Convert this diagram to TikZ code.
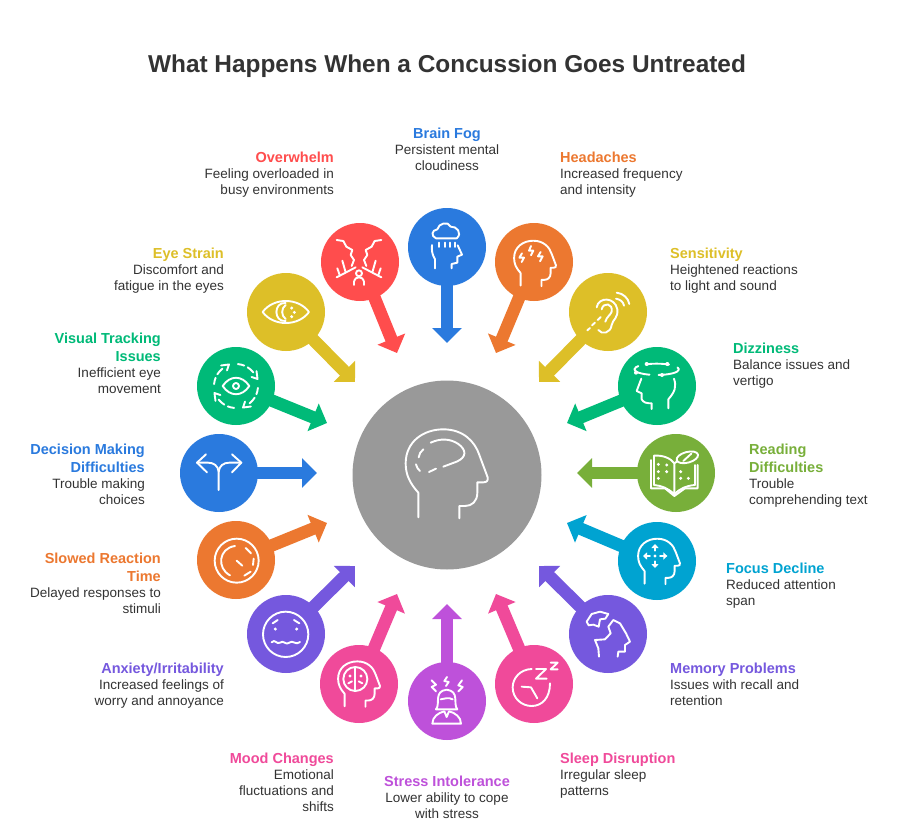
\documentclass[tikz,border=0pt]{standalone}
\usepackage{fontspec}
\setmainfont{Liberation Sans}
\usetikzlibrary{arrows.meta}
\definecolor{cblue}{HTML}{2A7ADE}
\definecolor{cred}{HTML}{FF4D4D}
\definecolor{corange}{HTML}{EC7830}
\definecolor{cyellow}{HTML}{DDBF28}
\definecolor{cgreen}{HTML}{00BA78}
\definecolor{clime}{HTML}{78AF3A}
\definecolor{ccyan}{HTML}{00A3D1}
\definecolor{cpurple}{HTML}{7558DE}
\definecolor{cpink}{HTML}{F04A9A}
\definecolor{cviolet}{HTML}{BE51DA}
\definecolor{chub}{HTML}{999999}
\definecolor{ctext}{HTML}{333333}
\newcommand{\hd}[2]{{\fontsize{14.5}{18}\selectfont\bfseries\color{#1}#2}}
\newcommand{\headpath}[2]{\begin{scope}[shift={(#1)},scale=#2]
\draw[icon] (-85,131) -- (-85,57) .. controls (-110,29) and (-123,4) .. (-123,-31) .. controls (-123,-96) and (-70,-133) .. (-10,-133) .. controls (50,-133) and (85,-96) .. (98,-56) -- (123,11) .. controls (125,21) and (120,26) .. (110,26) -- (92,26) -- (92,57) .. controls (92,84) and (75,97) .. (55,97) -- (38,97) -- (38,134);
\end{scope}}
\tikzset{
  x=1pt,y=-1pt,
  disc/.style={circle,minimum size=78pt,inner sep=0pt,fill=#1},
  hubdisc/.style={circle,minimum size=189pt,inner sep=0pt,fill=chub},
  spoke/.style={line width=12.5pt,draw=#1,-{Triangle[width=29pt,length=15pt]}},
  icon/.style={draw=white,line width=1.9pt,line cap=round,line join=round},
  lblr/.style={anchor=north east,align=right,inner sep=0pt,text=ctext,font=\fontsize{13.5}{16}\selectfont},
  lbll/.style={anchor=north west,align=left,inner sep=0pt,text=ctext,font=\fontsize{13.5}{16}\selectfont},
  lblc/.style={anchor=north,align=center,inner sep=0pt,text=ctext,font=\fontsize{13.5}{16}\selectfont},
  titlenode/.style={inner sep=0pt,text=ctext,font=\fontsize{24.4}{30}\selectfont\bfseries}
}
\begin{document}
\begin{tikzpicture}
\useasboundingbox (0,0) rectangle (898,838);
\fill[white] (0,0) rectangle (898,838);
\node[titlenode] (title) at (447,66) {What Happens When a Concussion Goes Untreated};

% hub and discs
\node[hubdisc] (hub) at (447,475) {};
\node[disc=cblue] (fog) at (447,247) {};
\node[disc=cred] (over) at (360,262) {};
\node[disc=cyellow] (eye) at (286,312) {};
\node[disc=cgreen] (track) at (236,386) {};
\node[disc=cblue] (deci) at (219,473) {};
\node[disc=corange] (slow) at (236,560) {};
\node[disc=cpurple] (anx) at (286,634) {};
\node[disc=cpink] (mood) at (359,684) {};
\node[disc=cviolet] (stress) at (447,701) {};
\node[disc=cpink] (sleep) at (534,684) {};
\node[disc=cpurple] (mem) at (608,634) {};
\node[disc=ccyan] (focus) at (657,561) {};
\node[disc=clime] (read) at (676,473) {};
\node[disc=cgreen] (dizzy) at (657,386) {};
\node[disc=cyellow] (sens) at (608,312) {};
\node[disc=corange] (ache) at (534,262) {};

% connector ends
\coordinate (tfog) at (447,343);
\coordinate (tover) at (397,353);
\coordinate (teye) at (355,382);
\coordinate (ttrack) at (327,423);
\coordinate (tdeci) at (317,473);
\coordinate (tslow) at (327,523);
\coordinate (tanx) at (355,566);
\coordinate (tmood) at (397,594);
\coordinate (tstress) at (447,604);
\coordinate (tsleep) at (496,594);
\coordinate (tmem) at (539,566);
\coordinate (tfocus) at (567,523);
\coordinate (tread) at (577,473);
\coordinate (tdizzy) at (567,423);
\coordinate (tsens) at (539,382);
\coordinate (tache) at (496,353);

\draw[spoke=cblue] (fog.center) -- (tfog);
\draw[spoke=cred] (over.center) -- (tover);
\draw[spoke=cyellow] (eye.center) -- (teye);
\draw[spoke=cgreen] (track.center) -- (ttrack);
\draw[spoke=cblue] (deci.center) -- (tdeci);
\draw[spoke=corange] (slow.center) -- (tslow);
\draw[spoke=cpurple] (anx.center) -- (tanx);
\draw[spoke=cpink] (mood.center) -- (tmood);
\draw[spoke=cviolet] (stress.center) -- (tstress);
\draw[spoke=cpink] (sleep.center) -- (tsleep);
\draw[spoke=cpurple] (mem.center) -- (tmem);
\draw[spoke=ccyan] (focus.center) -- (tfocus);
\draw[spoke=clime] (read.center) -- (tread);
\draw[spoke=cgreen] (dizzy.center) -- (tdizzy);
\draw[spoke=cyellow] (sens.center) -- (tsens);
\draw[spoke=corange] (ache.center) -- (tache);

% labels
\node[lblc] (lfog) at (447,128) {\hd{cblue}{Brain Fog}\\Persistent mental\\cloudiness};
\node[lblr] (lover) at (334,151.5) {\hd{cred}{Overwhelm}\\Feeling overloaded in\\busy environments};
\node[lbll] (lache) at (560,151.5) {\hd{corange}{Headaches}\\Increased frequency\\and intensity};
\node[lblr] (leye) at (224,247.5) {\hd{cyellow}{Eye Strain}\\Discomfort and\\fatigue in the eyes};
\node[lbll] (lsens) at (670,247.5) {\hd{cyellow}{Sensitivity}\\Heightened reactions\\to light and sound};
\node[lblr] (ltrack) at (161,332.5) {\hd{cgreen}{Visual Tracking}\\[2pt]\hd{cgreen}{Issues}\\Inefficient eye\\movement};
\node[lbll] (ldizzy) at (733,342.5) {\hd{cgreen}{Dizziness}\\Balance issues and\\vertigo};
\node[lblr] (ldeci) at (145,443.5) {\hd{cblue}{Decision Making}\\[2pt]\hd{cblue}{Difficulties}\\Trouble making\\choices};
\node[lbll] (lread) at (749,443.5) {\hd{clime}{Reading}\\[2pt]\hd{clime}{Difficulties}\\Trouble\\comprehending text};
\node[lblr] (lslow) at (161,552.5) {\hd{corange}{Slowed Reaction}\\[2pt]\hd{corange}{Time}\\Delayed responses to\\stimuli};
\node[lbll] (lfocus) at (726,562.5) {\hd{ccyan}{Focus Decline}\\Reduced attention\\span};
\node[lblr] (lanx) at (224,662.5) {\hd{cpurple}{Anxiety/Irritability}\\Increased feelings of\\worry and annoyance};
\node[lbll] (lmem) at (670,662.5) {\hd{cpurple}{Memory Problems}\\Issues with recall and\\retention};
\node[lblr] (lmood) at (334,752.5) {\hd{cpink}{Mood Changes}\\Emotional\\fluctuations and\\shifts};
\node[lbll] (lsleep) at (560,752.5) {\hd{cpink}{Sleep Disruption}\\Irregular sleep\\patterns};
\node[lblc] (lstress) at (447,775.5) {\hd{cviolet}{Stress Intolerance}\\Lower ability to cope\\with stress};

% hub icon
\begin{scope}[shift={(350,370)},scale=1/3]
\headpath{290,311}{1}
\draw[icon] (242,218) .. controls (270,205) and (300,205) .. (325,222) .. controls (350,240) and (350,262) .. (320,275) -- (280,290);
\draw[icon] (258,296) -- (237,306);
\draw[icon] (198,283) .. controls (200,292) and (204,298) .. (210,303);
\draw[icon] (220,238) .. controls (212,245) and (207,252) .. (206,262);
\end{scope}

% upper-left icons
\begin{scope}[shift={(180,190)},scale=1/3]
% overwhelm
\foreach \m in {1,-1}{
\begin{scope}[shift={(537,0)},xscale=\m]
\draw[icon] (-67,150) -- (-47,153) -- (-38,170) -- (-20,180) -- (-25,195) -- (-15,210) -- (-22,228);
\draw[icon] (-67,262) -- (-10,232);
\draw[icon] (-65,235) -- (-58,255);
\draw[icon] (-50,212) -- (-40,247);
\end{scope}}
\draw[icon] (537,250) circle[radius=9];
\draw[icon] (522,285) -- (522,275) .. controls (525,265) and (530,262) .. (537,262) .. controls (544,262) and (549,265) .. (552,275) -- (552,285);
% eye strain
\draw[icon] (248,366) .. controls (280,322) and (355,322) .. (387,366) .. controls (355,410) and (280,410) .. (248,366) -- cycle;
\draw[icon] (317,339) .. controls (280,335) and (280,397) .. (317,393);
\draw[icon] (317,345) .. controls (303,355) and (303,377) .. (317,387);
\fill[white] (335,354) circle[radius=5] (343,367) circle[radius=5] (335,380) circle[radius=5];
% visual tracking
\draw[icon] (128,588) .. controls (150,555) and (186,555) .. (208,588) .. controls (186,621) and (150,621) .. (128,588) -- cycle;
\draw[icon] (168,588) circle[radius=9];
\foreach \r in {0,90,180,270}{
\begin{scope}[shift={(168,588)},rotate=\r]
\draw[icon] (5:66) arc[start angle=5,end angle=22,radius=66];
\draw[icon] (32:66) arc[start angle=32,end angle=52,radius=66];
\draw[icon] (60:54) -- (72:68) -- (54:76);
\end{scope}}
\end{scope}

% upper-right icons
\begin{scope}[shift={(450,190)},scale=1/3]
% headaches
\headpath{255,220}{0.51}
\draw[icon] (243,168) -- (237,182) -- (250,182) -- (243,196);
\draw[icon] (216,190) -- (208,203) -- (222,203) -- (215,216);
\draw[icon] (272,186) -- (264,199) -- (278,199) -- (270,214);
% ear
\draw[icon] (440,352) .. controls (445,320) and (495,320) .. (502,358) .. controls (505,385) and (488,388) .. (485,405) .. controls (482,430) and (455,435) .. (445,420);
\draw[icon] (455,358) .. controls (460,335) and (490,340) .. (485,365) .. controls (482,375) and (470,380) .. (466,395);
\draw[icon] (498,326) .. controls (510,328) and (520,335) .. (522,347);
\draw[icon] (500,308) .. controls (520,310) and (535,325) .. (538,342);
\draw[icon] (412,421) -- (420,414);
\draw[icon] (426,406) -- (435,398);
\draw[icon] (443,390) -- (452,381);
% dizziness
\draw[icon,dash pattern=on 22pt off 9pt] (620,538) ellipse[x radius=67,y radius=17];
\fill[white] (590,522) circle[radius=6] (652,522) circle[radius=6] (558,548) circle[radius=6] (636,555) circle[radius=6];
\draw[icon] (655,655) -- (655,628) .. controls (675,605) and (680,590) .. (672,566);
\draw[icon] (574,566) -- (560,603) -- (575,610) -- (575,628) .. controls (580,638) and (590,640) .. (605,640) -- (605,657);
\end{scope}

% lower-left icons
\begin{scope}[shift={(180,470)},scale=1/3]
% slowed reaction
\draw[icon] (170,272) circle[radius=66];
\draw[icon] (150,316) .. controls (110,295) and (115,235) .. (165,228);
\draw[icon] (197,234) -- (213,250);
\draw[icon] (221,266) -- (219,285);
\draw[icon] (212,305) -- (193,317);
\draw[icon] (170,272) -- (187,287);
% anxiety
\draw[icon] (317,493) circle[radius=68];
\fill[white] (286,477) circle[radius=5] (350,477) circle[radius=5];
\draw[icon] (278,460) -- (293,450);
\draw[icon] (342,450) -- (358,460);
\draw[icon] (275,517) .. controls (285,505) and (290,525) .. (300,518) .. controls (310,508) and (318,528) .. (328,518) .. controls (338,508) and (348,528) .. (360,516);
% mood
\headpath{537,642}{0.51}
\draw[icon] (526,627) circle[radius=36];
\draw[icon] (526,592) -- (526,662);
\fill[white] (510,618) circle[radius=5] (543,618) circle[radius=5];
\draw[icon] (505,640) -- (516,634);
\draw[icon] (547,640) -- (536,634);
\end{scope}

% lower-right icons
\begin{scope}[shift={(450,470)},scale=1/3]
% sleep
\draw[icon] (245,597) .. controls (210,598) and (188,625) .. (188,652) .. controls (188,685) and (215,708) .. (245,708) .. controls (275,708) and (300,685) .. (300,640);
\draw[icon] (215,650) -- (243,652) -- (262,685);
\draw[icon] (258,597) -- (288,597) -- (258,626) -- (290,626);
\draw[icon] (302,578) -- (323,578) -- (302,598) -- (323,598);
% memory
\draw[icon] (410,455) -- (425,432) -- (450,425) -- (475,432) -- (466,446) -- (450,448) -- (446,470) -- (430,464) -- (416,466) -- cycle;
\draw[icon] (447,560) -- (445,535) -- (435,510) -- (465,508) -- (482,490) -- (475,470) -- (490,450) -- (510,460) -- (528,490) -- (540,515) -- (525,525) -- (525,545) -- (505,545) -- (503,560);
% focus
\headpath{627,274}{0.51}
\fill[white] (615,258) circle[radius=5];
\fill[white] (615,222) -- (626,234) -- (604,234) -- cycle (615,294) -- (626,282) -- (604,282) -- cycle (579,258) -- (591,247) -- (591,269) -- cycle (652,258) -- (640,247) -- (640,269) -- cycle;
\draw[icon] (615,234) -- (615,242);
\draw[icon] (615,274) -- (615,282);
\draw[icon] (591,258) -- (600,258);
\draw[icon] (630,258) -- (640,258);
\end{scope}

% brain fog icon
\begin{scope}[shift={(400,200)},scale=1/3]
\draw[icon] (108,115) .. controls (92,108) and (95,90) .. (112,88) .. controls (115,70) and (145,62) .. (152,80) .. controls (170,78) and (188,100) .. (170,115) -- cycle;
\draw[icon] (118,128) -- (118,141);
\draw[icon] (135,128) -- (135,141);
\draw[icon] (150,128) -- (150,141);
\draw[icon] (165,128) -- (165,141);
\draw[icon] (105,205) -- (105,178) .. controls (97,165) and (94,150) .. (96,135);
\draw[icon] (155,205) -- (155,192) -- (172,188) -- (172,170) -- (186,164) -- (173,136);
\end{scope}

% decision icon
\begin{scope}[shift={(172,425)},scale=1/3]
\draw[icon] (140,195) -- (140,140) .. controls (138,122) and (125,113) .. (108,113) -- (75,113);
\draw[icon] (140,140) .. controls (142,122) and (155,113) .. (172,113) -- (208,113);
\draw[icon] (102,88) -- (75,113) -- (105,142);
\draw[icon] (180,88) -- (208,113) -- (180,142);
\end{scope}

% reading icon
\begin{scope}[shift={(630,425)},scale=1/3]
\draw[icon] (72,92) .. controls (100,90) and (122,100) .. (133,115) -- (133,208) .. controls (115,190) and (95,182) .. (72,180) -- cycle;
\draw[icon] (63,105) -- (63,190) -- (105,190) -- (133,213) -- (165,190) -- (203,190) -- (203,120);
\draw[icon] (133,208) .. controls (150,190) and (170,182) .. (195,180) -- (195,120);
\draw[icon] (133,115) -- (140,110);
\fill[white] (85,118) circle[radius=5] (110,120) circle[radius=5] (85,140) circle[radius=5] (110,140) circle[radius=5] (85,160) circle[radius=5] (152,140) circle[radius=5] (152,160) circle[radius=5] (175,160) circle[radius=5];
\draw[icon] (172,97) ellipse[x radius=33,y radius=16,rotate=15];
\draw[icon] (160,108) -- (184,86);
\end{scope}

% stress icon
\begin{scope}[shift={(400,652)},scale=1/3]
\draw[icon] (95,85) -- (108,98) -- (95,105) -- (108,118);
\draw[icon] (141,75) -- (133,87) -- (146,90) -- (138,102);
\draw[icon] (186,85) -- (175,100) -- (188,105) -- (175,118);
\draw[icon] (108,172) .. controls (122,155) and (100,118) .. (140,113) .. controls (180,118) and (158,155) .. (172,172) -- cycle;
\draw[icon] (122,142) .. controls (135,140) and (145,135) .. (158,142);
\draw[icon] (97,215) .. controls (97,195) and (115,182) .. (133,178) -- (140,195) -- (147,178) .. controls (165,182) and (183,195) .. (183,215) -- cycle;
\end{scope}
\end{tikzpicture}
\end{document}
